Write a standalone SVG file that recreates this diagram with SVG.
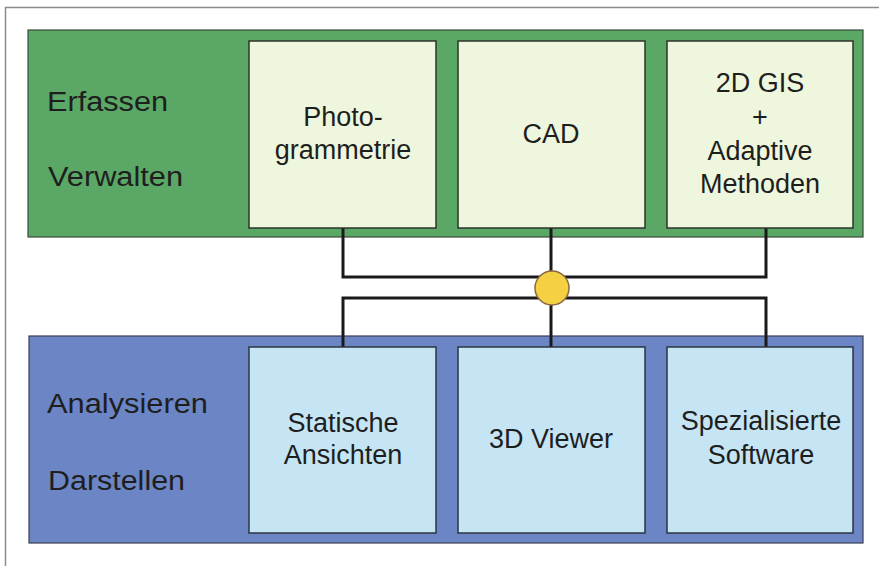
<svg xmlns="http://www.w3.org/2000/svg" width="879" height="566" viewBox="0 0 879 566">
<style>
.side{font-family:"Liberation Sans",Arial,sans-serif;font-size:27px;fill:#1e1e1e}
.bt{font-family:"Liberation Sans",Arial,sans-serif;font-size:27px;fill:#1e1e1e;text-anchor:middle}
.panelG{fill:#5aa766;stroke:#3a4a3a;stroke-width:1.2}
.panelB{fill:#6b85c5;stroke:#3a3f55;stroke-width:1.2}
.boxG{fill:#eef6dd;stroke:#2e332b;stroke-width:1.5}
.boxB{fill:#c5e5f4;stroke:#2b3540;stroke-width:1.5}
.conn{fill:none;stroke:#1a1a1a;stroke-width:3}
</style>
<rect width="879" height="566" fill="#ffffff"/>
<path d="M5.5 566 V7.5 H879" fill="none" stroke="#8a8a8a" stroke-width="1.5"/>
<g id="panel-top">
<rect class="panelG" x="28" y="30" width="835" height="207"/>
<text class="side" x="47" y="111" textLength="121" lengthAdjust="spacingAndGlyphs">Erfassen</text>
<text class="side" x="48" y="186" textLength="135" lengthAdjust="spacingAndGlyphs">Verwalten</text>
</g>
<g id="panel-bottom">
<rect class="panelB" x="29" y="336" width="834" height="207"/>
<text class="side" x="47" y="413" textLength="161" lengthAdjust="spacingAndGlyphs">Analysieren</text>
<text class="side" x="48" y="490" textLength="137" lengthAdjust="spacingAndGlyphs">Darstellen</text>
</g>
<g id="connectors">
<path class="conn" d="M343 228 V277 H766 V228 M551 228 V277"/>
<path class="conn" d="M343 347 V298 H766 V347 M551 347 V298"/>
</g>
<g id="node-photo">
<rect class="boxG" x="249" y="41" width="187" height="187"/>
<text class="bt" x="343" y="126">Photo-</text>
<text class="bt" x="343" y="159">grammetrie</text>
</g>
<g id="node-cad">
<rect class="boxG" x="458" y="41" width="187" height="187"/>
<text class="bt" x="551" y="143">CAD</text>
</g>
<g id="node-gis">
<rect class="boxG" x="667" y="41" width="186" height="187"/>
<text class="bt" x="760" y="92">2D GIS</text>
<text class="bt" x="760" y="126">+</text>
<text class="bt" x="760" y="160">Adaptive</text>
<text class="bt" x="760" y="193">Methoden</text>
</g>
<g id="node-statisch">
<rect class="boxB" x="249" y="347" width="187" height="186"/>
<text class="bt" x="343" y="432">Statische</text>
<text class="bt" x="343" y="464">Ansichten</text>
</g>
<g id="node-viewer">
<rect class="boxB" x="458" y="347" width="187" height="186"/>
<text class="bt" x="551" y="448">3D Viewer</text>
</g>
<g id="node-software">
<rect class="boxB" x="667" y="347" width="186" height="186"/>
<text class="bt" x="761" y="430">Spezialisierte</text>
<text class="bt" x="761" y="464">Software</text>
</g>
<g id="node-hub">
<circle cx="552" cy="288" r="17" fill="#f6d043" stroke="#8a6a40" stroke-width="1.5"/>
</g>
</svg>
